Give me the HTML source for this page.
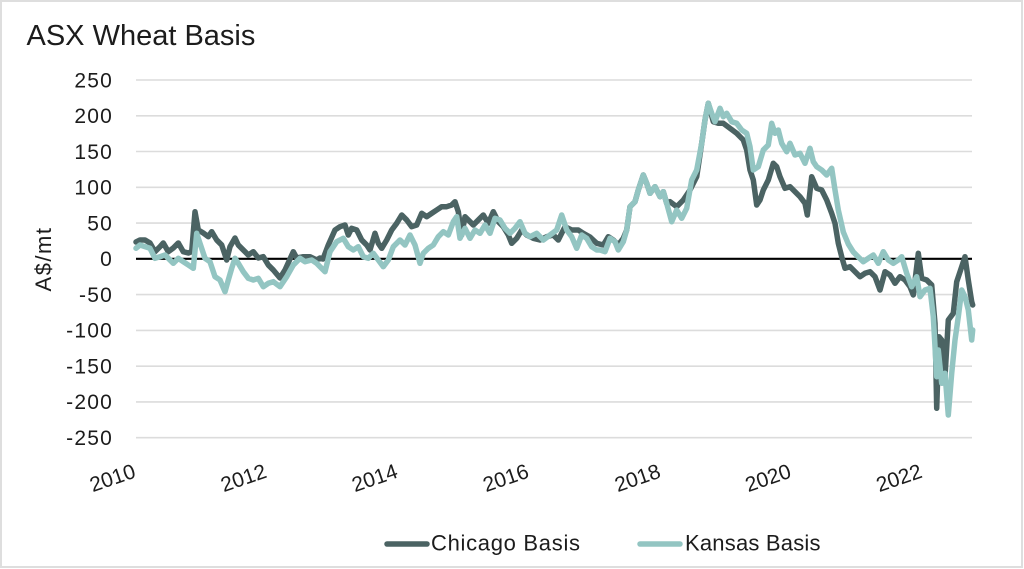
<!DOCTYPE html>
<html>
<head>
<meta charset="utf-8">
<style>
html,body{margin:0;padding:0;background:#fff;}
body{width:1024px;height:569px;overflow:hidden;}
svg{display:block;}
text{font-family:"Liberation Sans",sans-serif;fill:#1c1c1c;}
</style>
</head>
<body>
<svg width="1024" height="569" viewBox="0 0 1024 569" xmlns="http://www.w3.org/2000/svg">
<rect x="0" y="0" width="1024" height="569" fill="#fff"/>
<rect x="1" y="1" width="1021" height="566" fill="none" stroke="#dedede" stroke-width="2"/>

<text x="26.5" y="45" font-size="29">ASX Wheat Basis</text>

<g stroke="#dcdcdc" stroke-width="1.6">
<line x1="136" y1="80" x2="972" y2="80"/>
<line x1="136" y1="115.8" x2="972" y2="115.8"/>
<line x1="136" y1="151.5" x2="972" y2="151.5"/>
<line x1="136" y1="187.3" x2="972" y2="187.3"/>
<line x1="136" y1="223.1" x2="972" y2="223.1"/>
<line x1="136" y1="294.6" x2="972" y2="294.6"/>
<line x1="136" y1="330.4" x2="972" y2="330.4"/>
<line x1="136" y1="366.2" x2="972" y2="366.2"/>
<line x1="136" y1="401.9" x2="972" y2="401.9"/>
<line x1="136" y1="437.7" x2="972" y2="437.7"/>
</g>
<line x1="136" y1="258.8" x2="972" y2="258.8" stroke="#000" stroke-width="2.2"/>

<g font-size="21" text-anchor="end" letter-spacing="1.2">
<text x="113" y="87.3">250</text>
<text x="113" y="123.1">200</text>
<text x="113" y="158.8">150</text>
<text x="113" y="194.6">100</text>
<text x="113" y="230.4">50</text>
<text x="113" y="266.1">0</text>
<text x="113" y="301.9">-50</text>
<text x="113" y="337.7">-100</text>
<text x="113" y="373.5">-150</text>
<text x="113" y="409.2">-200</text>
<text x="113" y="445">-250</text>
</g>

<text x="0" y="0" font-size="22" letter-spacing="1.5" text-anchor="middle" transform="translate(51,259) rotate(-90)">A$/mt</text>

<g font-size="21" text-anchor="middle">
<text transform="translate(112.5,478) rotate(-19)" y="7">2010</text>
<text transform="translate(243.6,478) rotate(-19)" y="7">2012</text>
<text transform="translate(374.7,478) rotate(-19)" y="7">2014</text>
<text transform="translate(505.8,478) rotate(-19)" y="7">2016</text>
<text transform="translate(637.5,478) rotate(-19)" y="7">2018</text>
<text transform="translate(768,478) rotate(-19)" y="7">2020</text>
<text transform="translate(899,478) rotate(-19)" y="7">2022</text>
</g>

<polyline fill="none" stroke="#4b6363" stroke-width="5.5" stroke-linejoin="round" stroke-linecap="round" points="136,242 140,240 145,240 150,243 155,251.7 160,246.7 163.3,243 168.3,251.7 173.3,248 178.3,243 183.3,251.7 188.3,253 191.7,251.7 195,211.7 198.3,230 203.3,233 208.3,236.7 211.7,231.7 216.7,240 221.7,245 226.7,260 230,246.7 235,238 238.3,245 243.3,250 248.3,255 253.3,251.7 258.3,258 263.3,256.7 268.3,265 273.3,270 280,278 285,270 293.3,251.7 296.7,258 303.3,256.7 310,256.7 316.7,260 320,258 323,259 328.3,245 335,230 340,226.7 345,225 348.3,235 351.7,228.3 356.7,230 361.7,240 366.7,245 370,250 375,233.3 378.3,243.3 381.7,248.3 386.7,240 391.7,230 396.7,223.3 401.7,215 406.7,220 411.7,226.7 416.7,225 421.7,213.3 426.7,216.7 431.7,213.3 436.7,210 441.7,206.7 446.7,206.7 451.7,205 455,201.7 458.3,211.7 461.7,235 465,216.7 468.3,220 473.3,225 478.3,220 483.3,215 488.3,223.3 493.3,211.7 498.3,221.7 503.3,226.7 508.3,235 511.7,243.3 516.7,238.3 521.7,230 526.7,235 533.3,238.3 540,240 546.7,236.7 553.3,235 558.3,240 565,226.7 571.7,230 578.3,230 583.3,233.3 590,237 596.7,243.3 603.3,245 608.3,236.7 613.3,240 618.3,245 623.3,238.3 626.7,230 630,206.7 635,201.7 638.3,190 643.3,175 646.7,183.3 650,193.3 655,186.7 660,196.7 663.3,191.7 666.7,203.3 670,201.7 676.7,206.7 683.3,200 690,190 696.7,176.7 701.7,143.3 705,120 708.3,103.3 713.3,121.7 718.3,123.3 723.3,123.3 730,128.3 736.7,133.3 743.3,140 746.7,150 750,170 753.3,180 756.7,205 760,200 763.3,190 768.3,180 773.3,163.3 776.7,166.7 780,176.7 785,188.3 790,186.7 795,191.7 800,196.7 805,203.3 807.3,215 811.7,176.7 816.7,188.3 821.7,190 826.7,200 831.7,213.3 835,223.3 838.3,243.3 841.7,256.7 845,268.3 850,266.7 855,271.7 860,276.7 865,273.3 870,271.7 875,276.7 880,290 885,271.7 890,275 895,283.3 900,276.7 905,280 910,286.7 913.3,295 918.3,253.3 921.7,278.3 926.7,280 931.7,285 935,323.3 936.7,408.3 939,336.7 941.7,340 945,376.7 948.3,320 953.3,313.3 956.7,281.7 961.7,266.7 965,256.7 968.3,280 971.7,301.7 972.7,305"/>

<polyline fill="none" stroke="#93c5c2" stroke-width="5.5" stroke-linejoin="round" stroke-linecap="round" points="136,248.3 140,245 145,246.7 150,248.3 155,258.3 160,256.7 165,255 170,260 173.3,263.3 178.3,258.3 183.3,261.7 188.3,265 193.3,268.3 196.7,233.3 200,243.3 205,258.3 210,261.7 215,276.7 220,280 225,291.7 228.3,280 231.7,268.3 235,258.3 238.3,263.3 243.3,271.7 248.3,278.3 253.3,280 258.3,278.3 263.3,286.7 268.3,283.3 273.3,281.7 280,286.7 286.7,276.7 293.3,265 300,258.3 305,261.7 311.7,260 316.7,263.3 320,266.7 325,271.7 330,251.7 336.7,241.7 343.3,238.3 348.3,246.7 353.3,250 358.3,246.7 363.3,256.7 368.3,258.3 373.3,253.3 378.3,260 383.3,266.7 388.3,260 393.3,246.7 400,240 405,245 410,235 415,245 420,263.3 423.3,253.3 428.3,248.3 433.3,245 438.3,236.7 443.3,231.7 448.3,235 453.3,221.7 456.7,216.7 460,238.3 465,228.3 470,238.3 475,230 480,233.3 485,225 490,233.3 495,218.3 500,220 505,228.3 510,233.3 515,228.3 520,221.7 525,233.3 530,236.7 536.7,233.3 543.3,240 550,235 556.7,230 561.7,215 566.7,230 571.7,236.7 576.7,248.3 581.7,235 586.7,238.3 591.7,246.7 596.7,250 600,250 605,251.7 610,238.3 615,241.7 618.3,250 623.3,241.7 626.7,230 630,206.7 635,201.7 638.3,190 643.3,175 646.7,183.3 650,193.3 655,186.7 660,196.7 663.3,191.7 666.7,203.3 671.7,221.7 676.7,210 681.7,218.3 686.7,208.3 691.7,180 696.7,170 701.7,143.3 705,120 708.3,103.3 711.7,113.3 715,121.7 720,108.3 723.3,116.7 726.7,113.3 731.7,121.7 736.7,123.3 741.7,130 746.7,133.3 750,146.7 753.3,170 758.3,166.7 763.3,150 768.3,145 771.7,123.3 775,133.3 778.3,130 781.7,143.3 786.7,151.7 790,143.3 795,155 800,153.3 805,163.3 810,148.3 813.3,161.7 816.7,166.7 821.7,170 826.7,175 831.7,168.3 835,190 838.3,210 843.3,232 848.3,244 853.3,252 858.3,257 863.3,261.7 868.3,258.3 873.3,255 878.3,263.3 883.3,251.7 888.3,260 893.3,263.3 898.3,260 901.7,256.7 906.7,273.3 911.7,286.7 916.7,276.7 920,296.7 925,290 930,288.3 933.3,316.7 936.7,376.7 938.3,350 941.7,383.3 945,373.3 948.3,415 951.7,373.3 955,340 958.3,316.7 961.7,290 965,296.7 968.3,310 971.7,340 972.7,330"/>

<line x1="387" y1="544" x2="427" y2="544" stroke="#4b6363" stroke-width="5.5" stroke-linecap="round"/>
<text x="431" y="550.5" font-size="22" letter-spacing="0.7">Chicago Basis</text>
<line x1="640" y1="544" x2="680" y2="544" stroke="#93c5c2" stroke-width="5.5" stroke-linecap="round"/>
<text x="685" y="550.5" font-size="22" letter-spacing="0.2">Kansas Basis</text>
</svg>
</body>
</html>
